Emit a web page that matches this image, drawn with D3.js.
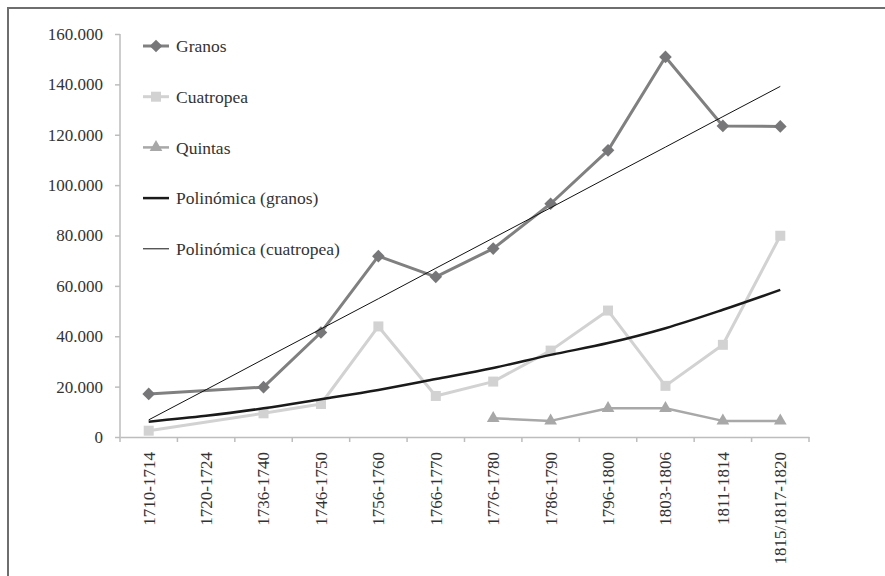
<!DOCTYPE html>
<html>
<head>
<meta charset="utf-8">
<script src="https://cdn.jsdelivr.net/npm/d3@7"></script>
<style>
  body { margin: 0; background: #fff; }
  svg text { font-family: 'Liberation Serif', 'Times New Roman', 'DejaVu Serif', serif !important; }
</style>
</head>
<body>
<svg id="chart" width="885" height="576"></svg>
<script>
var periods = ['1710-1714', '1720-1724', '1736-1740', '1746-1750', '1756-1760', '1766-1770',
  '1776-1780', '1786-1790', '1796-1800', '1803-1806', '1811-1814', '1815/1817-1820']
var granos = [17100, null, 19800, 41500, 71800, 63600, 74800, 92600, 113800, 150900, 123500, 123300]
var cuatropea = [2500, null, 9400, 13100, 43900, 16300, 22000, 34300, 50200, 20300, 36600, 79900]
var quintas = [null, null, null, null, null, null, 7400, 6400, 11400, 11400, 6400, 6400]
// trend lines
var polGranos = [6100, 8400, 11400, 15000, 18700, 23000, 27400, 32600, 37300, 43200, 50500, 58400]
var polCuatropea = [6800, 18800, 30900, 42900, 54900, 67000, 79000, 91000, 103100, 115100, 127200, 139200]
var yTicks = [0, 20000, 40000, 60000, 80000, 100000, 120000, 140000, 160000]

var svg = d3.select('#chart')

// outer frame (cut off on the right and bottom)
svg.append('rect')
  .attr('x', 8).attr('y', 8)
  .attr('width', 900).attr('height', 600)
  .attr('fill', 'none')
  .attr('stroke', '#6e6e6e')
  .attr('stroke-width', 2)

var x = d3.scaleBand().domain(periods).range([120, 809])
var y = d3.scaleLinear().domain([0, 160000]).range([437, 34])
var px = function(i) { return x(periods[i]) + x.bandwidth() / 2 }
var fmt = function(v) { return v === 0 ? '0' : d3.format(',')(v).replace(/,/g, '.') }

// y axis
var yAxis = svg.append('g')
  .attr('transform', 'translate(120,0)')
  .call(d3.axisLeft(y).tickValues(yTicks).tickSize(5).tickPadding(12).tickFormat(fmt))
yAxis.selectAll('path, line').attr('stroke', '#bdbdbd').attr('stroke-width', 1.5)
yAxis.select('.domain').attr('d', 'M0,' + y(0) + 'V' + y(160000))
yAxis.selectAll('text').attr('font-size', 17).attr('fill', '#333')

// x axis
var xAxis = svg.append('g')
  .attr('transform', 'translate(0,' + y(0) + ')')
  .call(d3.axisBottom(x).tickSize(0).tickSizeOuter(0))
xAxis.select('.domain').attr('stroke', '#bdbdbd').attr('stroke-width', 1.5)
xAxis.selectAll('.tick line').remove()
xAxis.selectAll('.tick text')
  .attr('font-size', 17).attr('fill', '#333')
  .attr('transform', 'rotate(-90)')
  .attr('text-anchor', 'end')
  .attr('x', -15).attr('y', 0).attr('dy', '0.35em')
var bounds = periods.map(function(p) { return x(p) }).concat([x.range()[1]])
xAxis.selectAll('.sep').data(bounds).enter().append('line')
  .attr('x1', function(d) { return d }).attr('x2', function(d) { return d })
  .attr('y1', 0).attr('y2', 5)
  .attr('stroke', '#bdbdbd').attr('stroke-width', 1.5)

// points with values only; the line runs across the gaps
var pts = function(values) {
  return values.map(function(v, i) { return { v: v, i: i } }).filter(function(d) { return d.v != null })
}
var line = d3.line()
  .x(function(d) { return px(d.i) })
  .y(function(d) { return y(d.v) })

var series = [
  { name: 'Granos', values: granos, color: '#808080', marker: d3.symbolSquare, size: 80, rot: 45, mcolor: '#77777a', width: 3 },
  { name: 'Cuatropea', values: cuatropea, color: '#d2d2d2', marker: d3.symbolSquare, size: 100, rot: 0, mcolor: '#d2d2d2', width: 3 },
  { name: 'Quintas', values: quintas, color: '#a8a8a8', marker: d3.symbolTriangle, size: 70, rot: 0, mcolor: '#a8a8a8', width: 2.5 }
]

// Cuatropea first so granos sits on top
;[series[1], series[2], series[0]].forEach(function(s) {
  svg.append('path')
    .attr('d', line(pts(s.values)))
    .attr('fill', 'none')
    .attr('stroke', s.color)
    .attr('stroke-width', s.width)
    .attr('stroke-linejoin', 'round')
  svg.selectAll(null)
    .data(pts(s.values))
    .enter().append('path')
    .attr('d', d3.symbol().type(s.marker).size(s.size))
    .attr('transform', function(d) {
      return 'translate(' + px(d.i) + ',' + y(d.v) + ') rotate(' + s.rot + ')'
    })
    .attr('fill', s.mcolor)
})

// trend lines
svg.append('path')
  .attr('d', line.curve(d3.curveMonotoneX)(pts(polGranos)))
  .attr('fill', 'none').attr('stroke', '#1a1a1a').attr('stroke-width', 2.5)
svg.append('path')
  .attr('d', line.curve(d3.curveLinear)(pts(polCuatropea)))
  .attr('fill', 'none').attr('stroke', '#111').attr('stroke-width', 1)

// legend
var legend = [
  { label: 'Granos', s: series[0] },
  { label: 'Cuatropea', s: series[1] },
  { label: 'Quintas', s: series[2] },
  { label: 'Polinómica (granos)', color: '#1a1a1a', width: 2.5 },
  { label: 'Polinómica (cuatropea)', color: '#111', width: 1 }
]
var lg = svg.append('g').attr('transform', 'translate(143,46)')
legend.forEach(function(d, i) {
  var g = lg.append('g').attr('transform', 'translate(0,' + i * 50.7 + ')')
  g.append('line')
    .attr('x1', 0).attr('x2', 26).attr('y1', 0).attr('y2', 0)
    .attr('stroke', d.s ? d.s.color : d.color)
    .attr('stroke-width', d.s ? d.s.width : d.width)
  if (d.s) {
    g.append('path')
      .attr('d', d3.symbol().type(d.s.marker).size(d.s.size))
      .attr('transform', 'translate(13,0) rotate(' + d.s.rot + ')')
      .attr('fill', d.s.mcolor)
  }
  g.append('text')
    .attr('x', 33).attr('y', 0).attr('dy', '0.35em')
    .attr('font-size', 17.5).attr('fill', '#333')
    .text(d.label)
})
</script>
</body>
</html>
